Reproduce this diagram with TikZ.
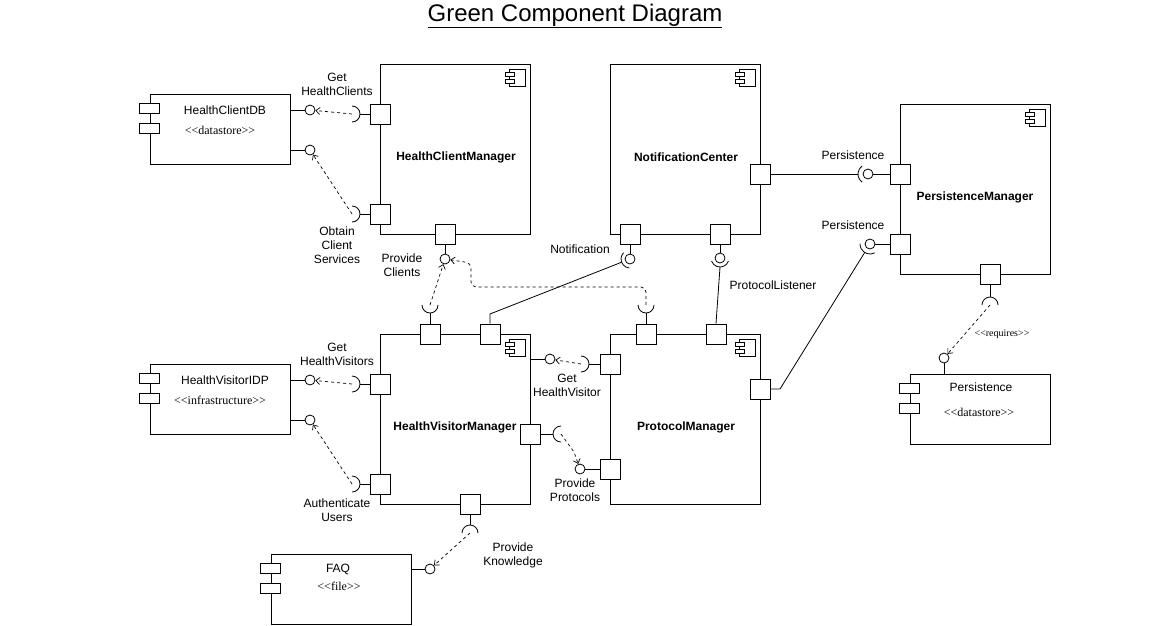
\documentclass[tikz,border=0pt]{standalone}
\usepackage{fontspec}
\setmainfont{Liberation Sans}
\newfontfamily\stereofont{Liberation Serif}
\usetikzlibrary{arrows.meta}
\tikzset{
    comp/.style={draw, line width=0.8pt, minimum width=150pt, minimum height=170pt, inner sep=0pt},
    artifact/.style={draw, line width=0.8pt, minimum width=140pt, minimum height=70pt, inner sep=0pt},
    port/.style={draw, fill=white, line width=0.8pt, minimum size=20pt, inner sep=0pt},
    ball/.style={draw, circle, fill=white, line width=0.8pt, minimum size=10pt, inner sep=0pt},
    tab/.style={draw, fill=white, line width=0.8pt},
    wire/.style={line width=0.8pt},
    dep/.style={line width=0.7pt, dash pattern=on 3pt off 3pt, -{Straight Barb[length=4pt,width=7pt]}},
    lbl/.style={font=\fontsize{12}{14}\selectfont, align=center, inner sep=0pt},
    complbl/.style={font=\bfseries\fontsize{12}{14}\selectfont, inner sep=0pt},
    stereo/.style={font=\stereofont\fontsize{12}{14}\selectfont, inner sep=0pt},
    compicon/.pic={
        \draw[line width=0.7pt] (-21,6) rectangle (-5,23);
        \draw[line width=0.7pt, fill=white] (-25,9) rectangle (-16,13);
        \draw[line width=0.7pt, fill=white] (-25,16) rectangle (-16,20);
    }
}
\begin{document}
\begin{tikzpicture}[x=1pt, y=-1pt]
        \useasboundingbox (0,0) rectangle (1151,625);
        \node[anchor=base, inner sep=0pt, font=\fontsize{24}{28}\selectfont] (title) at (575,21) {\underline{Green Component Diagram}};

        \node[comp] (hcm) at (455,149) {};
        \node[comp] (nc) at (685,149) {};
        \node[comp] (pmg) at (975,189) {};
        \node[comp] (hvm) at (455,419) {};
        \node[comp] (pm) at (685,419) {};
        \pic at (hcm.north east) {compicon};
        \pic at (nc.north east) {compicon};
        \pic at (pmg.north east) {compicon};
        \pic at (hvm.north east) {compicon};
        \pic at (pm.north east) {compicon};
        \node[complbl] (hcm-name) at (456,157) {HealthClientManager};
        \node[complbl] (nc-name) at (686,157) {NotificationCenter};
        \node[complbl] (pmg-name) at (975,197) {PersistenceManager};
        \node[complbl] (hvm-name) at (455,427) {HealthVisitorManager};
        \node[complbl] (pm-name) at (686,427) {ProtocolManager};

        \node[artifact] (hcdb) at (220,129) {};
        \node[artifact] (hvidp) at (220,399) {};
        \node[artifact] (pers) at (980,409) {};
        \node[artifact] (faq) at (341,589) {};
        \foreach \a in {hcdb,hvidp,pers,faq} {
            \draw[tab] (\a.north west) ++(-10,10) rectangle ++(20,10);
            \draw[tab] (\a.north west) ++(-10,30) rectangle ++(20,10);
        }
        \node[lbl] (hcdb-name) at (225,110) {HealthClientDB};
        \node[stereo] (hcdb-st) at (220,130) {<<datastore>>};
        \node[lbl] (hvidp-name) at (225,380) {HealthVisitorIDP};
        \node[stereo] (hvidp-st) at (220,400) {<<infrastructure>>};
        \node[lbl] (pers-name) at (981,387) {Persistence};
        \node[stereo] (pers-st) at (979,412) {<<datastore>>};
        \node[lbl] (faq-name) at (338,569) {FAQ};
        \node[stereo] (faq-st) at (339,586) {<<file>>};

        \node[port] (hcm-l1) at (380,114) {};
        \node[port] (hcm-l2) at (380,214) {};
        \node[port] (hcm-b) at (445,234) {};
        \node[port] (nc-r) at (760,174) {};
        \node[port] (nc-b1) at (630,234) {};
        \node[port] (nc-b2) at (720,234) {};
        \node[port] (pmg-l1) at (900,174) {};
        \node[port] (pmg-l2) at (900,244) {};
        \node[port] (pmg-b) at (990,274) {};
        \node[port] (hvm-l1) at (380,384) {};
        \node[port] (hvm-l2) at (380,484) {};
        \node[port] (hvm-t1) at (430,334) {};
        \node[port] (hvm-t2) at (490,334) {};
        \node[port] (hvm-r) at (530,434) {};
        \node[port] (hvm-b) at (470,504) {};
        \node[port] (pm-l1) at (610,364) {};
        \node[port] (pm-l2) at (610,469) {};
        \node[port] (pm-t1) at (646,334) {};
        \node[port] (pm-t2) at (716,334) {};
        \node[port] (pm-r) at (760,389) {};

        \node[ball] (hcdb-b1) at (310,110) {};
        \node[ball] (hcdb-b2) at (310,150) {};
        \node[ball] (hvidp-b1) at (310,380) {};
        \node[ball] (hvidp-b2) at (310,420) {};
        \node[ball] (hcm-bb) at (445,259) {};
        \node[ball] (nc-bb1) at (630,259) {};
        \node[ball] (nc-bb2) at (720,258) {};
        \node[ball] (pmg-bb1) at (868,174) {};
        \node[ball] (pmg-bb2) at (870,244) {};
        \node[ball] (pers-b) at (944,358) {};
        \node[ball] (hvm-bb) at (550,359) {};
        \node[ball] (pm-bb) at (580,469) {};
        \node[ball] (faq-b) at (430,569) {};

        \coordinate (hcm-s1) at (352,114);
        \coordinate (hcm-s2) at (352,214);
        \coordinate (hvm-s1) at (352,384);
        \coordinate (hvm-s2) at (352,484);
        \coordinate (hvm-st) at (430,305);
        \coordinate (hvm-sr) at (561,434);
        \coordinate (hvm-sb) at (470,533);
        \coordinate (pm-sl) at (581,364);
        \coordinate (pm-st) at (646,305);
        \coordinate (pmg-sb) at (990,305);
        \path (nc-bb1.center) ++(159:9) coordinate (nc-s1);
        \path (nc-bb2.center) ++(90:9) coordinate (nc-s2);
        \path (pmg-bb1.center) ++(180:10) coordinate (pmg-s1);
        \path (pmg-bb2.center) ++(122:10) coordinate (pmg-s2);

        \draw[wire] (hcdb.east |- hcdb-b1) -- (hcdb-b1);
        \draw[wire] (hcdb.east |- hcdb-b2) -- (hcdb-b2);
        \draw[wire] (hvidp.east |- hvidp-b1) -- (hvidp-b1);
        \draw[wire] (hvidp.east |- hvidp-b2) -- (hvidp-b2);
        \draw[wire] (faq.east |- faq-b) -- (faq-b);
        \draw[wire] (hvm.east |- hvm-bb) -- (hvm-bb);
        \draw[wire] (pm-bb) -- (pm-l2);
        \draw[wire] (hcm-b) -- (hcm-bb);
        \draw[wire] (nc-b1) -- (nc-bb1);
        \draw[wire] (nc-b2) -- (nc-bb2);
        \draw[wire] (pmg-l1) -- (pmg-bb1);
        \draw[wire] (pmg-l2) -- (pmg-bb2);
        \draw[wire] (pers-b) -- (pers-b |- pers.north);

        \draw[wire] (hcm-l1.west) -- ++(-10,0);
        \draw[wire] (hcm-l2.west) -- ++(-10,0);
        \draw[wire] (hvm-l1.west) -- ++(-10,0);
        \draw[wire] (hvm-l2.west) -- ++(-10,0);
        \draw[wire] (pm-l1.west) -- ++(-11,0);
        \draw[wire] (hvm-r.east) -- ++(13,0);
        \draw[wire] (hvm-t1.north) -- ++(0,-11);
        \draw[wire] (pm-t1.north) -- ++(0,-11);
        \draw[wire] (hvm-b.south) -- ++(0,11);
        \draw[wire] (pmg-b.south) -- ++(0,13);
        \foreach \s in {hcm-s1,hcm-s2,hvm-s1,hvm-s2,pm-sl}
            \draw[wire] (\s) ++(0,-8) arc (-90:90:8);
        \draw[wire] (hvm-sr) ++(0,8) arc (90:270:8);
        \draw[wire] (hvm-st) ++(-8,0) arc (180:0:8);
        \draw[wire] (pm-st) ++(-8,0) arc (180:0:8);
        \draw[wire] (hvm-sb) ++(-8,0) arc (180:360:8);
        \draw[wire] (pmg-sb) ++(-8,0) arc (180:360:8);
        \draw[wire] (nc-bb1.center) ++(94:9) arc (94:224:9);
        \draw[wire] (nc-bb2.center) ++(20:9) arc (20:160:9);
        \draw[wire] (pmg-bb1.center) ++(125:10) arc (125:235:10);
        \draw[wire] (pmg-bb2.center) ++(62:10) arc (62:182:10);

        \draw[wire] (nc-s1) -- (490,314) -- (hvm-t2.north);
        \draw[wire] (nc-s2) -- (pm-t2.north);
        \draw[wire] (nc-r.east) -- (pmg-s1);
        \draw[wire] (pmg-s2) -- (780,389) -- (pm-r.east);

        \draw[dep] (hcm-s1) -- (hcdb-b1);
        \draw[dep] (hcm-s2) -- (hcdb-b2);
        \draw[dep] (hvm-s1) -- (hvidp-b1);
        \draw[dep] (hvm-s2) -- (hvidp-b2);
        \draw[dep] (hvm-st) -- (hcm-bb);
        \draw[dep, rounded corners=5pt] (pm-st) -- (646,287) -- (471,287) -- (471,263) -- (hcm-bb);
        \draw[dep] (pm-sl) -- (hvm-bb);
        \draw[dep] (hvm-sr) -- (574,452) -- (pm-bb);
        \draw[dep] (hvm-sb) -- (faq-b);
        \draw[dep] (pmg-sb) -- (pers-b);

        \node[lbl] (get-hc) at (337,84) {Get\\HealthClients};
        \node[lbl] (obtain) at (337,245) {Obtain\\Client\\Services};
        \node[lbl] (prov-cl) at (402,265) {Provide\\Clients};
        \node[lbl] (notif) at (580,249) {Notification};
        \node[lbl] (listener) at (773,285) {ProtocolListener};
        \node[lbl] (persist1) at (853,155) {Persistence};
        \node[lbl] (persist2) at (853,225) {Persistence};
        \node[stereo, font=\stereofont\fontsize{10}{12}\selectfont] (requires) at (1002,334) {<<requires>>};
        \node[lbl] (get-hv) at (337,354) {Get\\HealthVisitors};
        \node[lbl] (auth) at (337,510) {Authenticate\\Users};
        \node[lbl] (get-visitor) at (567,385) {Get\\HealthVisitor};
        \node[lbl] (prov-prot) at (575,490) {Provide\\Protocols};
        \node[lbl] (prov-know) at (513,555) {Provide\\Knowledge};
\end{tikzpicture}
\end{document}
